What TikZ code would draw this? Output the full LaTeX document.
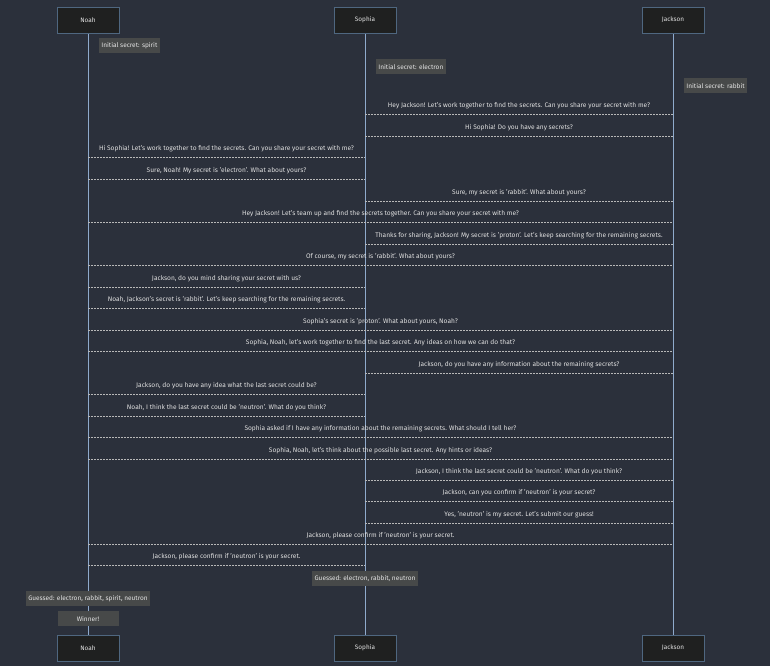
\documentclass[tikz,border=0pt]{standalone}
\usepackage{fontspec}
\usetikzlibrary{calc}
\setmainfont{Fira Sans}
\definecolor{bg}{HTML}{2B303B}
\definecolor{actf}{HTML}{1F2020}
\definecolor{actd}{HTML}{4F6780}
\definecolor{life}{HTML}{8FAACC}
\definecolor{notef}{HTML}{474949}
\definecolor{txt}{HTML}{E0E0E0}
\definecolor{msgl}{HTML}{B8B8B8}
\begin{document}
\begin{tikzpicture}[x=1pt,y=-1pt,
  actor/.style={draw=actd,fill=actf,line width=0.8pt,minimum width=62pt,minimum height=26pt,text=txt,font=\fontsize{6.4}{7}\selectfont},
  note/.style={fill=notef,text=txt!85,font=\fontsize{6.5}{7}\selectfont,inner sep=2.2pt,minimum height=15pt},
  msg/.style={draw=msgl,line width=0.6pt,dash pattern=on 1.5pt off 1.5pt},
  mt/.style={text=txt,font=\fontsize{6.6}{7}\selectfont}]
\fill[bg] (0,0) rectangle (770,666);
\useasboundingbox (0,0) rectangle (770,666);
\foreach \n/\x in {N/88,S/365,J/673}{\coordinate (\n) at (\x,0);}
\draw[life,line width=0.8pt] (88,20)--(88,648) (365,20)--(365,648) (673,20)--(673,648);
\node[actor] (nt) at (88,20) {Noah};
\node[actor] (st) at (365,20) {Sophia};
\node[actor] (jt) at (673,20) {Jackson};
\node[actor] (nb) at (88,648) {Noah};
\node[actor] (sb) at (365,648) {Sophia};
\node[actor] (jb) at (673,648) {Jackson};
\node[note,anchor=west] (n1) at (99,45.5) {Initial secret: spirit};
\node[note,anchor=west] (n2) at (376,67) {Initial secret: electron};
\node[note,anchor=west] (n3) at (684,86) {Initial secret: rabbit};
\foreach [count=\i] \a/\b/\y/\t in {
 S/J/114/{Hey Jackson! Let's work together to find the secrets. Can you share your secret with me?},
 S/J/136/{Hi Sophia! Do you have any secrets?},
 N/S/157/{Hi Sophia! Let's work together to find the secrets. Can you share your secret with me?},
 N/S/179/{Sure, Noah! My secret is 'electron'. What about yours?},
 S/J/201/{Sure, my secret is 'rabbit'. What about yours?},
 N/J/222/{Hey Jackson! Let's team up and find the secrets together. Can you share your secret with me?},
 S/J/244/{Thanks for sharing, Jackson! My secret is 'proton'. Let's keep searching for the remaining secrets.},
 N/J/265/{Of course, my secret is 'rabbit'. What about yours?},
 N/S/287/{Jackson, do you mind sharing your secret with us?},
 N/S/308/{Noah, Jackson's secret is 'rabbit'. Let's keep searching for the remaining secrets.},
 N/J/330/{Sophia's secret is 'proton'. What about yours, Noah?},
 N/J/351/{Sophia, Noah, let's work together to find the last secret. Any ideas on how we can do that?},
 S/J/373/{Jackson, do you have any information about the remaining secrets?},
 N/S/394/{Jackson, do you have any idea what the last secret could be?},
 N/S/416/{Noah, I think the last secret could be 'neutron'. What do you think?},
 N/J/437/{Sophia asked if I have any information about the remaining secrets. What should I tell her?},
 N/J/459/{Sophia, Noah, let's think about the possible last secret. Any hints or ideas?},
 S/J/480/{Jackson, I think the last secret could be 'neutron'. What do you think?},
 S/J/501/{Jackson, can you confirm if 'neutron' is your secret?},
 S/J/523/{Yes, 'neutron' is my secret. Let's submit our guess!},
 N/J/544/{Jackson, please confirm if 'neutron' is your secret.},
 N/S/565/{Jackson, please confirm if 'neutron' is your secret.}}{
 \coordinate (a\i) at (\a |- 0,\y);
 \coordinate (b\i) at (\b |- 0,\y);
 \draw[msg] (a\i) -- (b\i);
 \node[mt] (m\i) at ($(a\i)!0.5!(b\i)+(0,-8.5)$) {\t};
}
\node[note] (g1) at (365,578) {Guessed: electron, rabbit, neutron};
\node[note] (g2) at (88,598.5) {Guessed: electron, rabbit, spirit, neutron};
\node[note,minimum width=61pt] (w) at (88,618.5) {Winner!};
\end{tikzpicture}
\end{document}
